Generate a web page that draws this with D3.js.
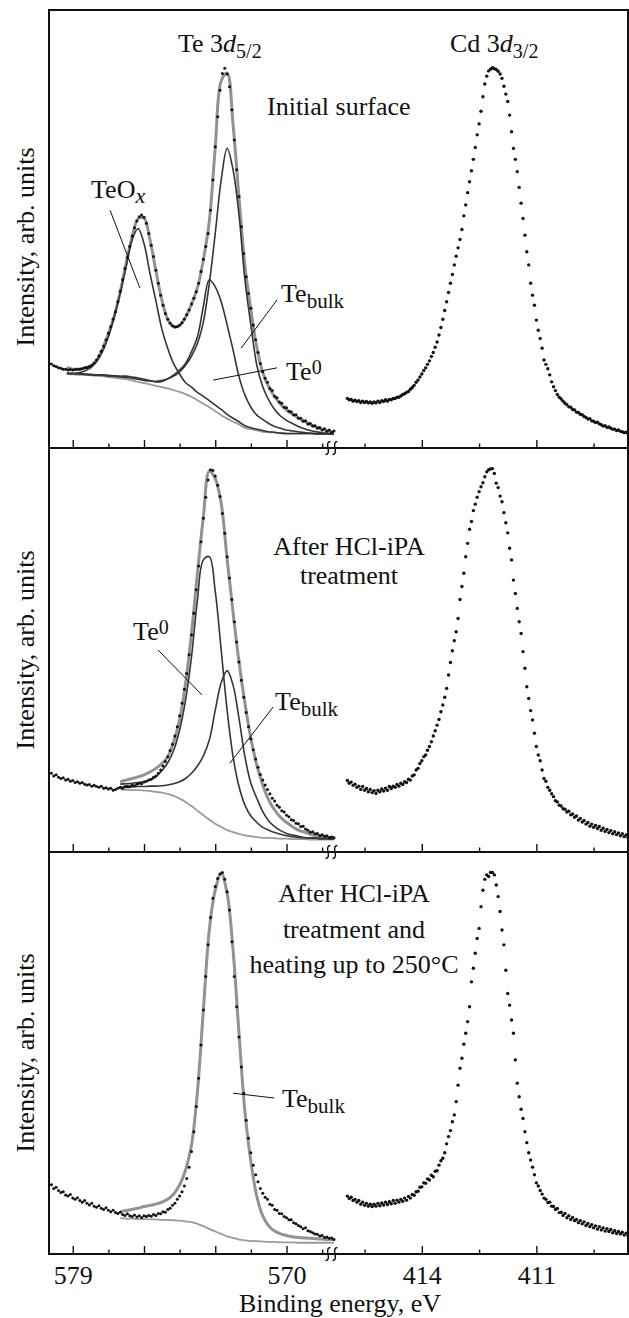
<!DOCTYPE html>
<html>
<head>
<meta charset="utf-8">
<script src="https://cdn.jsdelivr.net/npm/d3@7"></script>
<style>
  html, body { margin: 0; padding: 0; background: #fff; }
  svg { display: block; font-family: "Liberation Serif", "Times New Roman", serif; }
</style>
</head>
<body>
<svg id="chart" width="629" height="1318"></svg>
<script>
// Te 3d5/2 measured points, 579.9 -> 568.0 eV, every 0.1 eV
const p1TeData = [
  19.2,18.8,18.6,18.3,18.2,18.0,18.0,17.8,17.9,17.8,
  17.9,18.0,18.0,18.1,18.3,18.4,18.6,18.9,19.4,20.1,
  21.0,22.1,23.3,24.7,26.2,27.7,29.4,31.1,33.4,35.8,
  38.4,41.0,43.5,46.0,48.4,50.3,51.8,52.8,53.2,52.7,
  51.3,49.0,46.3,43.7,40.6,37.6,34.9,32.6,30.7,29.4,
  28.5,27.9,27.6,27.7,28.0,28.6,29.4,30.4,31.5,32.9,
  34.2,35.7,37.6,40.3,43.1,46.0,49.0,54.3,61.2,68.8,
  75.6,81.7,85.5,86.7,85.4,82.5,77.2,70.3,63.5,57.4,
  50.5,44.4,39.1,35.3,31.9,28.1,24.7,21.8,19.3,17.4,
  15.9,15.0,13.6,13.1,11.8,11.5,10.5,10.2,9.3,9.2,
  8.4,8.3,7.6,7.6,6.8,6.8,6.1,6.2,5.5,5.6,
  5.0,5.1,4.5,4.7,4.1,4.4,3.8,4.1,3.6,3.9
];
const p2TeData = [
  19.5,18.8,19.1,18.5,18.2,18.4,17.8,18.0,17.5,17.7,
  17.2,17.4,17.0,17.2,16.8,16.6,16.7,16.3,16.5,16.2,
  16.0,16.3,15.8,15.9,15.6,15.8,15.3,15.5,15.8,16.0,
  15.8,16.2,16.3,16.2,16.6,16.4,16.8,17.0,16.9,17.3,
  17.5,17.8,18.0,18.5,18.8,19.5,20.3,21.3,22.4,23.6,
  25.1,26.7,28.7,31.0,33.7,36.8,40.3,44.2,48.8,53.7,
  59.1,64.9,70.8,76.8,82.6,87.8,92.1,94.6,94.4,93.1,
  90.8,88.0,83.8,78.9,73.1,67.8,62.5,57.0,52.0,47.0,
  42.5,38.3,34.5,31.0,28.0,25.3,23.0,21.0,19.2,17.8,
  16.6,15.5,14.4,13.3,12.6,11.6,11.1,10.2,9.9,9.1,
  8.7,8.0,7.8,7.1,7.0,6.3,6.4,5.7,5.4,4.9,
  5.0,4.5,4.6,4.1,4.3,3.9,4.0,3.6,3.7,3.5
];
const p3TeData = [
  17.2,16.3,16.6,15.8,15.3,15.5,14.7,14.4,14.8,13.9,
  13.6,14.0,13.3,12.9,13.3,12.6,12.2,12.6,11.9,11.6,
  12.0,11.4,11.1,11.5,10.9,10.5,10.9,10.3,10.1,10.4,
  9.8,9.6,10.0,9.5,9.3,9.7,9.2,9.5,9.1,9.5,
  9.3,9.6,9.4,9.8,9.6,10.1,10.0,10.5,10.4,11.1,
  11.4,12.1,12.6,13.6,14.4,15.5,16.9,18.8,21.6,25.5,
  30.4,36.7,43.7,52.0,60.7,69.0,76.9,83.7,88.5,91.4,
  93.4,94.5,94.9,93.2,90.1,85.6,77.7,69.0,61.5,54.0,
  46.5,40.0,33.3,28.8,25.2,22.1,19.7,18.0,16.3,15.1,
  14.1,13.6,12.4,12.1,11.1,10.9,10.1,10.0,9.3,9.0,
  8.5,8.5,7.8,7.5,7.1,6.8,6.3,6.5,5.8,5.6,
  5.3,5.0,4.9,4.5,4.6,4.1,4.2,3.9,4.0,3.6
];

// fitted curves, every 0.25 eV (panel 1 from 579.25 eV, panels 2-3 from 577.0 eV, down to 568.0)
const p1Background = [16.9,16.8,16.7,16.7,16.6,16.5,16.4,16.2,16.0,15.9,15.7,15.4,15.1,14.8,14.5,14.2,13.9,13.6,13.2,12.8,12.3,11.7,10.9,10.1,9.3,8.4,7.5,6.7,6.0,5.4,4.6,4.3,4.0,3.7,3.6,3.5,3.4,3.3,3.3,3.3,3.3,3.3,3.3,3.2,3.2,3.2];
const p1Envelope = [18.4,18.0,18.0,18.3,18.7,20.0,22.6,26.0,30.2,35.7,42.3,48.2,52.3,52.5,47.6,40.5,33.8,29.4,27.7,28.0,29.9,32.8,36.6,43.0,51.8,68.6,83.8,85.6,73.8,57.2,41.6,31.6,23.0,17.2,14.0,11.7,10.0,8.7,7.7,6.9,6.1,5.4,4.8,4.3,3.9,3.6];
const p1TeOx = [17.0,17.0,17.2,17.6,18.3,19.7,22.0,25.4,30.0,35.3,41.4,47.5,50.1,46.7,39.9,33.6,27.2,22.7,19.2,16.9,14.9,13.9,12.7,11.8,10.8,9.8,8.8,7.7,6.8,6.0,5.1,4.6,4.3,4.0,3.7,3.6,3.4,3.3,3.3,3.3,3.3,3.3,3.2,3.2,3.2,3.2];
const p1Te0 = [17.1,17.0,17.0,16.9,16.8,16.7,16.7,16.6,16.5,16.4,16.4,16.2,16.0,15.7,15.4,15.1,15.2,15.8,16.7,17.8,19.3,22.0,25.4,32.3,38.4,36.8,33.4,28.1,22.4,16.3,12.1,9.3,7.5,6.5,5.6,4.9,4.5,4.1,3.9,3.7,3.5,3.4,3.3,3.3,3.3,3.2];
const p1TeBulk = [17.0,17.0,16.9,16.8,16.7,16.7,16.6,16.4,16.4,16.2,16.1,15.9,15.7,15.4,15.3,15.2,15.4,15.8,16.4,17.4,18.9,21.0,23.9,28.8,37.6,49.0,61.2,68.4,63.5,53.2,38.4,28.1,18.9,14.0,11.0,8.8,7.3,6.3,5.6,4.9,4.4,4.0,3.7,3.5,3.3,3.3];

const p2Background = [15.5,15.4,15.3,15.3,15.2,15.1,14.9,14.7,14.4,13.9,13.2,12.4,11.4,10.2,9.1,8.0,7.0,6.2,5.4,4.9,4.5,4.1,3.9,3.7,3.5,3.5,3.4,3.3,3.3,3.2,3.2,3.2,3.1,3.1,3.1,3.1,3.1];
const p2Envelope = [17.4,17.8,18.2,18.6,19.1,19.8,20.7,21.9,23.6,27.3,32.7,41.7,54.1,69.0,83.0,94.3,92.4,86.3,72.5,59.3,47.1,36.8,28.1,21.5,16.6,12.9,10.4,8.6,7.3,6.3,5.4,4.9,4.4,4.0,3.8,3.5,3.4];
const p2Te0 = [16.8,16.9,17.0,17.2,17.4,17.8,18.6,20.1,22.1,25.2,30.2,37.6,48.3,62.4,72.3,73.1,64.5,50.0,35.1,23.6,16.2,11.6,8.9,7.3,6.1,5.4,4.8,4.4,4.0,3.8,3.6,3.5,3.5,3.4,3.3,3.3,3.2];
const p2TeBulk = [16.0,16.0,16.1,16.2,16.2,16.3,16.3,16.4,16.6,16.9,17.4,18.2,19.5,21.3,23.8,27.7,35.1,41.9,44.9,41.3,33.1,23.6,17.0,13.3,10.0,7.7,6.3,5.3,4.6,4.2,3.9,3.6,3.5,3.4,3.3,3.3,3.2];

const p3Background = [8.9,8.8,8.8,8.7,8.7,8.6,8.6,8.5,8.5,8.4,8.3,8.1,7.9,7.5,6.9,6.2,5.6,5.0,4.4,4.0,3.6,3.4,3.2,3.2,3.1,3.0,3.0,2.9,2.9,2.9,2.8,2.8,2.8,2.8,2.8,2.8,2.8];
const p3Envelope = [10.5,10.8,11.1,11.4,11.8,12.1,12.4,12.9,13.6,14.9,17.2,20.9,27.1,40.4,60.7,80.6,90.5,94.7,89.7,75.6,54.9,35.4,23.0,14.3,9.5,7.0,5.7,5.0,4.6,4.3,4.1,4.0,3.9,3.8,3.7,3.6,3.6];

// Cd 3d3/2 measured points, 415.95 -> 408.60 eV, every 0.05 eV
const p1Cd = [
  11.3,11.0,11.1,10.7,10.9,10.6,10.8,10.4,10.7,10.4,
  10.6,10.3,10.5,10.2,10.5,10.3,10.7,10.4,10.8,10.6,
  11.0,10.7,11.1,11.0,11.3,11.3,11.6,11.6,11.9,12.2,
  12.4,12.7,12.9,13.4,13.8,14.3,15.0,15.5,16.2,16.9,
  17.7,18.3,19.1,19.9,20.9,21.8,23.0,24.2,25.8,27.5,
  29.4,31.4,33.4,35.5,37.6,39.6,41.8,43.8,45.7,47.6,
  49.9,53.0,55.5,58.3,60.8,63.3,65.9,68.6,71.5,74.0,
  76.9,80.2,83.1,84.9,86.1,86.5,86.8,86.6,86.4,86.0,
  85.4,84.4,82.6,80.8,79.1,76.0,72.2,68.4,65.9,63.1,
  59.5,55.9,52.4,48.6,44.8,41.8,37.6,34.9,32.6,29.2,
  26.9,25.0,22.8,20.1,19.1,18.1,16.7,15.1,14.0,13.1,
  12.2,11.6,11.2,10.7,10.2,9.9,9.4,9.3,8.8,8.7,
  8.2,8.1,7.7,7.6,7.2,7.0,6.6,6.7,6.2,6.1,
  5.8,5.9,5.5,5.3,5.0,5.1,4.7,4.8,4.5,4.3,
  4.3,4.0,4.1,3.8,3.7,3.5,3.6,3.3
];
const p2Cd = [
  17.7,17.0,17.3,16.5,16.8,16.0,16.3,15.5,16.2,15.3,
  15.7,14.9,15.5,14.7,15.2,14.5,15.3,14.9,15.6,15.1,
  15.8,15.3,16.2,15.7,16.3,16.0,16.7,16.3,17.0,16.7,
  17.4,17.2,18.0,17.8,18.8,19.1,20.3,20.7,21.9,22.6,
  23.6,24.0,25.2,26.1,27.3,28.7,30.0,31.4,32.8,34.7,
  36.4,38.3,40.5,43.8,46.9,49.8,52.3,54.5,57.8,62.5,
  65.7,69.0,73.1,76.4,79.9,81.8,84.5,86.1,87.8,89.2,
  90.4,91.4,92.9,94.1,94.6,94.8,94.9,93.7,91.3,90.2,
  88.1,86.7,84.0,81.5,79.0,75.2,72.3,67.3,64.0,60.3,
  57.0,54.1,49.6,45.5,40.9,38.0,35.0,32.7,29.4,26.1,
  24.0,22.6,20.3,18.2,17.5,16.0,15.3,14.4,13.7,12.7,
  12.4,11.6,11.4,10.7,10.6,9.9,10.1,9.2,9.4,8.6,
  8.9,7.9,8.3,7.4,7.8,6.9,7.3,6.4,6.9,6.1,
  6.6,5.8,6.3,5.4,5.9,5.1,5.6,4.8,5.3,4.5,
  5.0,4.3,4.7,4.0,4.5,3.8,4.2,3.6
];
const p3Cd = [
  14.4,13.8,14.1,13.3,13.6,12.9,13.3,12.4,12.9,12.1,
  12.6,11.9,12.4,11.8,12.4,11.9,12.6,12.0,12.7,12.2,
  12.9,12.3,13.0,12.5,13.3,12.6,13.4,12.9,13.6,13.1,
  13.9,13.4,14.3,13.9,14.8,14.6,15.5,15.6,16.6,16.7,
  17.7,17.6,18.7,18.4,19.6,19.2,20.6,20.7,22.1,23.2,
  23.8,25.2,27.4,29.2,30.7,32.9,34.6,37.9,42.0,46.2,
  48.7,52.2,54.9,57.8,61.5,67.7,71.1,74.8,78.5,81.0,
  86.4,90.5,93.2,94.3,93.9,94.9,94.9,94.3,91.8,88.9,
  85.2,80.6,76.9,70.6,64.8,61.9,58.2,54.9,48.3,42.5,
  39.1,36.0,33.7,30.4,27.7,25.2,23.4,21.6,19.7,17.7,
  16.9,15.8,14.9,13.9,13.6,12.8,12.9,11.9,11.8,11.1,
  11.3,10.3,10.4,9.6,10.1,9.0,9.5,8.6,9.1,8.3,
  8.6,7.8,8.3,7.5,8.0,7.1,7.6,6.8,7.3,6.5,
  7.0,6.2,6.8,6.0,6.5,5.7,6.3,5.6,6.1,5.3,
  5.8,5.1,5.6,5.0,5.4,4.7,5.2,4.6
];

// axis ticks
const teMajorTicks = [579, 576, 573, 570];
const teMinorTicks = [577.5, 574.5, 571.5, 568.5];
const cdMajorTicks = [414, 411];
const cdMinorTicks = [415.5, 412.5, 409.5];
const teTickLabels = [579, 570];
const cdTickLabels = [414, 411];

const teDataStart = 579.9, teDataStep = 0.1;
const fitStep = 0.25;
const cdStart = 415.95, cdStep = 0.05;

const plotLeft = 49, plotRight = 628, breakX = 334;

const panels = [
  {
    top: 10, bottom: 448, fitStart: 579.25,
    data: p1TeData, cd: p1Cd,
    background: p1Background, envelope: p1Envelope,
    components: [p1TeOx, p1Te0, p1TeBulk],
    labelY: 247,
    condition: {x: 267, anchor: 'start', lines: ['Initial surface'], y0: 115, dy: 0},
    notes: [
      {at: [578.23, 57.1], parts: [{t: 'TeO'}, {t: 'x', italic: true, size: 22, shift: 5}], lead: [[577.43, 54.3], [576.17, 36.5]]},
      {at: [570.23, 33.3], parts: [{t: 'Te'}, {t: 'bulk', size: 21, shift: 6}], lead: [[570.40, 33.8], [571.91, 22.8]]},
      {at: [570.02, 15.5], parts: [{t: 'Te'}, {t: '0', size: 20, shift: -6}], lead: [[570.40, 18.3], [573.09, 15.5]]}
    ]
  },
  {
    top: 448, bottom: 852, fitStart: 577.0,
    data: p2TeData, cd: p2Cd,
    background: p2Background, envelope: p2Envelope,
    components: [p2Te0, p2TeBulk],
    labelY: 650,
    condition: {x: 349, anchor: 'middle', lines: ['After HCl-iPA', 'treatment'], y0: 555, dy: 29},
    notes: [
      {at: [576.46, 52.5], parts: [{t: 'Te'}, {t: '0', size: 20, shift: -6}], lead: [[575.41, 50.0], [573.56, 38.9]]},
      {at: [570.48, 35.1], parts: [{t: 'Te'}, {t: 'bulk', size: 21, shift: 6}], lead: [[570.56, 35.9], [572.38, 22.0]]}
    ]
  },
  {
    top: 852, bottom: 1254, fitStart: 577.0,
    data: p3TeData, cd: p3Cd,
    background: p3Background, envelope: p3Envelope,
    components: [],
    labelY: 1053,
    condition: {x: 354, anchor: 'middle', lines: ['After HCl-iPA', 'treatment and', 'heating up to 250°C'], y0: 902, dy: 35.5},
    notes: [
      {at: [570.19, 36.6], parts: [{t: 'Te'}, {t: 'bulk', size: 21, shift: 6}], lead: [[570.52, 38.8], [572.25, 40.0]]}
    ]
  }
];

const svg = d3.select('#chart');

const xTe = d3.scaleLinear().domain([580, 568]).range([plotLeft, breakX]);
const xCd = d3.scaleLinear().domain([416.3, 408.6]).range([breakX, plotRight]);

const series = (values, start, step) => values.map((v, i) => [start - i * step, v]);

function richText(g, x, y, parts, anchor) {
  const t = g.append('text')
    .attr('x', x).attr('y', y)
    .attr('text-anchor', anchor || 'start')
    .attr('font-size', 26)
    .attr('fill', '#111');
  let shift = 0;
  parts.forEach(p => {
    const ts = t.append('tspan').text(p.t);
    const target = p.shift || 0;
    if (target !== shift) {
      ts.attr('dy', target - shift);
      shift = target;
    }
    if (p.size) ts.attr('font-size', p.size);
    if (p.italic) ts.attr('font-style', 'italic');
  });
  return t;
}

panels.forEach((p, k) => {
  const y = d3.scaleLinear().domain([0, 100]).range([p.bottom, p.top]);
  const g = svg.append('g').attr('class', 'panel-' + k);

  const teLine = d3.line()
    .x(d => xTe(d[0]))
    .y(d => y(d[1]))
    .curve(d3.curveCatmullRom);

  // Shirley background
  g.append('path')
    .datum(series(p.background, p.fitStart, fitStep))
    .attr('d', teLine)
    .attr('fill', 'none')
    .attr('stroke', '#9a9a9a')
    .attr('stroke-width', 1.8);

  // fit envelope
  g.append('path')
    .datum(series(p.envelope, p.fitStart, fitStep))
    .attr('d', teLine)
    .attr('fill', 'none')
    .attr('stroke', '#929292')
    .attr('stroke-width', 3);

  // components
  p.components.forEach(c => {
    g.append('path')
      .datum(series(c, p.fitStart, fitStep))
      .attr('d', teLine)
      .attr('fill', 'none')
      .attr('stroke', '#353535')
      .attr('stroke-width', 1.6);
  });

  // Te measured points
  g.append('g').selectAll('circle')
    .data(series(p.data, teDataStart, teDataStep))
    .join('circle')
    .attr('cx', d => xTe(d[0]))
    .attr('cy', d => y(d[1]))
    .attr('r', 1.5)
    .attr('fill', '#111');

  // Cd measured points
  g.append('g').selectAll('circle')
    .data(series(p.cd, cdStart, cdStep))
    .join('circle')
    .attr('cx', d => xCd(d[0]))
    .attr('cy', d => y(d[1]))
    .attr('r', 1.7)
    .attr('fill', '#111');

  // ticks pointing up into the panel
  const tickG = g.append('g').attr('transform', `translate(0,${p.bottom})`);
  [[xTe, teMajorTicks, 8], [xTe, teMinorTicks, 4.5], [xCd, cdMajorTicks, 8], [xCd, cdMinorTicks, 4.5]].forEach(([sc, vals, len]) => {
    const a = tickG.append('g')
      .call(d3.axisTop(sc).tickValues(vals).tickSize(len).tickFormat(''));
    a.select('.domain').remove();
    a.selectAll('line').attr('stroke', '#111').attr('stroke-width', 1.4);
  });

  // axis break marks
  [328, 335].forEach(bx => {
    const by = p.bottom;
    g.append('path')
      .attr('d', `M${bx + 2.5},${by - 6.5} Q${bx - 1.5},${by - 6.5} ${bx},${by} Q${bx + 1.5},${by + 6.5} ${bx - 2.5},${by + 6.5}`)
      .attr('fill', 'none')
      .attr('stroke', '#111')
      .attr('stroke-width', 1.4);
  });

  // y label
  g.append('text')
    .attr('transform', `translate(34,${p.labelY}) rotate(-90)`)
    .attr('text-anchor', 'middle')
    .attr('font-size', 26)
    .attr('fill', '#111')
    .text('Intensity, arb. units');

  // condition text
  p.condition.lines.forEach((ln, i) => {
    g.append('text')
      .attr('x', p.condition.x)
      .attr('y', p.condition.y0 + i * p.condition.dy)
      .attr('text-anchor', p.condition.anchor)
      .attr('font-size', 26)
      .attr('fill', '#111')
      .text(ln);
  });

  // component labels with leader lines
  p.notes.forEach(n => {
    g.append('line')
      .attr('x1', xTe(n.lead[0][0])).attr('y1', y(n.lead[0][1]))
      .attr('x2', xTe(n.lead[1][0])).attr('y2', y(n.lead[1][1]))
      .attr('stroke', '#111')
      .attr('stroke-width', 1);
    richText(g, xTe(n.at[0]), y(n.at[1]), n.parts);
  });
});

// peak titles on top panel
richText(svg, 178, 52, [{t: 'Te 3'}, {t: 'd', italic: true}, {t: '5/2', size: 20, shift: 6}]);
richText(svg, 450, 52, [{t: 'Cd 3'}, {t: 'd', italic: true}, {t: '3/2', size: 20, shift: 6}]);

// frame
svg.append('rect')
  .attr('x', plotLeft).attr('y', panels[0].top)
  .attr('width', plotRight - plotLeft)
  .attr('height', panels[2].bottom - panels[0].top)
  .attr('fill', 'none')
  .attr('stroke', '#111')
  .attr('stroke-width', 2);
[panels[0].bottom, panels[1].bottom].forEach(yy => {
  svg.append('line')
    .attr('x1', plotLeft).attr('x2', plotRight)
    .attr('y1', yy).attr('y2', yy)
    .attr('stroke', '#111')
    .attr('stroke-width', 2);
});

// tick labels at the bottom
const lastBottom = panels[2].bottom;
[[xTe, teTickLabels], [xCd, cdTickLabels]].forEach(([sc, vals]) => {
  const a = svg.append('g')
    .attr('transform', `translate(0,${lastBottom})`)
    .call(d3.axisBottom(sc).tickValues(vals).tickSize(0).tickPadding(12).tickFormat(d3.format('d')));
  a.select('.domain').remove();
  a.attr('font-family', null).attr('font-size', null);
  a.selectAll('text').attr('font-size', 26).attr('fill', '#111');
});

svg.append('text')
  .attr('x', 340).attr('y', 1312)
  .attr('text-anchor', 'middle')
  .attr('font-size', 26)
  .attr('fill', '#111')
  .text('Binding energy, eV');
</script>
</body>
</html>
